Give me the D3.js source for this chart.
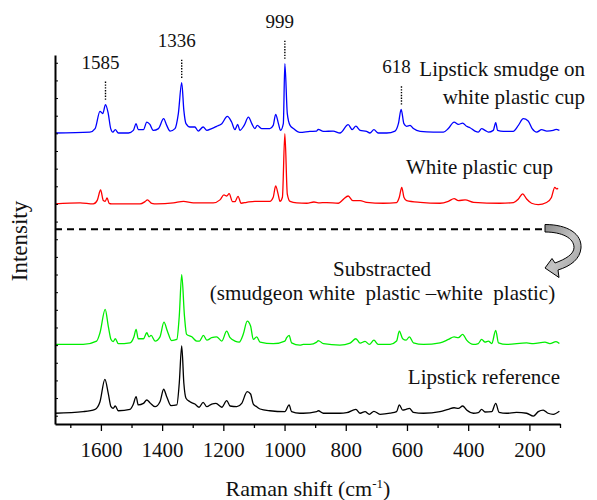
<!DOCTYPE html>
<html><head><meta charset="utf-8">
<script src="https://cdn.jsdelivr.net/npm/d3@7/dist/d3.min.js"></script>
<style>
body{margin:0;background:#fff}
svg{display:block}
</style>
</head><body>
<svg id="chart" width="597" height="500" style="font-family:'Liberation Serif'"></svg>
<script>
// ---- data: [Raman shift (cm-1), intensity above own baseline] ----
const smudgeOnCup = [[1750,0.02],[1636,0.07],[1619,0.27],[1603,1.25],[1594,1.12],[1585,1.63],[1576,1.12],[1568,0.27],[1561,0.07],[1553,0.21],[1543,0.02],[1510,0.02],[1494,0.17],[1485,0.55],[1478,0.21],[1461,0.21],[1450,0.64],[1440,0.51],[1429,0.17],[1412,0.27],[1395,0.83],[1385,0.45],[1374,0.13],[1358,0.27],[1347,1.12],[1336,2.87],[1329,1.30],[1322,0.55],[1309,0.36],[1293,0.36],[1282,0.13],[1266,0.36],[1254,0.17],[1238,0.27],[1222,0.40],[1205,0.55],[1187,0.96],[1173,0.64],[1162,0.21],[1153,0.51],[1146,0.17],[1132,0.45],[1118,0.92],[1107,0.55],[1097,0.27],[1089,0.45],[1075,0.27],[1048,0.27],[1037,0.45],[1029,1.08],[1020,0.55],[1013,0.17],[1004,0.55],[999,3.95],[991,1.12],[982,0.45],[971,0.27],[950,0.05],[917,0.11],[895,0.13],[890,0.23],[873,0.11],[841,0.13],[819,0.02],[792,0.49],[779,0.21],[767,0.41],[753,0.17],[732,0.11],[721,0.02],[708,0.21],[694,0.02],[666,0.02],[639,0.13],[628,0.55],[619,1.36],[610,0.55],[601,0.40],[590,0.45],[579,0.27],[557,0.11],[514,0.07],[481,0.07],[465,0.27],[446,0.64],[432,0.51],[418,0.58],[405,0.40],[394,0.32],[378,0.13],[367,0.07],[356,0.27],[345,0.17],[334,0.07],[318,0.17],[310,0.61],[304,0.17],[285,0.11],[253,0.11],[236,0.45],[220,0.83],[204,0.70],[191,0.27],[176,0.07],[160,0.21],[143,0.13],[122,0.17],[113,0.23],[102,0.17]];

const whiteCup = [[1750,0],[1668,0.06],[1625,0],[1612,0.2],[1601,0.79],[1592,0.19],[1586,0.15],[1580,0.34],[1573,0.03],[1565,0],[1472,0],[1456,0.13],[1448,0.23],[1434,0.03],[1418,0],[1363,0.06],[1330,0.15],[1298,0.06],[1233,0.06],[1211,0.23],[1198,0.51],[1189,0.45],[1181,0.58],[1170,0.13],[1162,0.13],[1152,0.43],[1142,0.04],[1124,0.09],[1097,0.15],[1064,0.15],[1048,0.15],[1037,0.38],[1029,1.02],[1021,0.56],[1015,0.15],[1007,0.38],[999,3.98],[991,0.56],[982,0.15],[960,0.06],[927,0.04],[904,0.11],[890,0.06],[862,0.08],[824,0.04],[808,0.26],[792,0.45],[777,0.19],[753,0.19],[732,0.09],[677,0.04],[634,0.08],[625,0.38],[617,0.94],[610,0.38],[601,0.19],[557,0.09],[492,0.04],[465,0.15],[446,0.30],[432,0.19],[410,0.23],[382,0.09],[296,0.04],[252,0.08],[236,0.28],[222,0.57],[209,0.28],[193,0.04],[171,-0.04],[144,0.08],[128,0.37],[117,0.94],[111,0.85],[106,0.88]];

const subtracted = [[1750,0.04],[1658,0.04],[1614,0.23],[1603,0.70],[1586,2.03],[1576,1.08],[1567,0.32],[1560,0.2],[1553,0.36],[1543,0.08],[1505,0.13],[1492,0.47],[1485,0.89],[1478,0.36],[1461,0.36],[1450,0.70],[1443,0.47],[1436,0.55],[1423,0.23],[1407,0.47],[1394,1.30],[1383,0.80],[1369,0.26],[1352,0.32],[1344,1.64],[1336,3.99],[1327,1.64],[1320,0.61],[1303,0.47],[1287,0.23],[1278,0.23],[1265,0.55],[1254,0.28],[1238,0.42],[1222,0.47],[1205,0.23],[1189,0.79],[1178,0.42],[1162,0.23],[1148,0.17],[1135,0.61],[1122,1.36],[1111,1.08],[1102,0.32],[1091,0.47],[1080,0.17],[1037,0.08],[999,0.23],[993,0.42],[985,0.55],[977,0.13],[950,0.0],[939,0.04],[917,0.04],[895,0.17],[890,0.26],[873,0.08],[819,0.0],[786,0.11],[767,0.36],[753,0.11],[737,0.21],[723,0.04],[708,0.28],[694,0.04],[655,0.04],[634,0.23],[625,0.79],[614,0.36],[603,0.28],[592,0.47],[579,0.13],[546,0.04],[492,0.13],[465,0.32],[446,0.47],[432,0.42],[418,0.61],[405,0.28],[383,0.04],[367,0.09],[356,0.32],[345,0.17],[334,0.23],[323,0.09],[310,0.83],[301,0.13],[274,0.04],[209,0.13],[187,0.08],[149,0.17],[133,0.09],[113,0.2],[102,0.09]];

const lipstickRef = [[1750,0.14],[1658,0.23],[1619,0.36],[1603,0.79],[1587,2.06],[1576,1.27],[1567,0.51],[1560,0.42],[1553,0.55],[1543,0.28],[1505,0.36],[1494,0.66],[1485,1.08],[1478,0.61],[1461,0.70],[1450,0.89],[1440,0.74],[1423,0.51],[1407,0.79],[1395,1.50],[1385,1.08],[1371,0.57],[1352,0.61],[1344,1.84],[1336,3.95],[1329,1.84],[1322,0.99],[1309,0.79],[1293,0.66],[1279,0.48],[1266,0.76],[1254,0.51],[1238,0.66],[1224,0.70],[1205,0.48],[1189,0.85],[1178,0.55],[1156,0.51],[1140,0.70],[1122,1.36],[1111,1.23],[1102,0.66],[1091,0.51],[1080,0.38],[1048,0.28],[999,0.23],[985,0.61],[977,0.23],[950,0.14],[939,0.14],[895,0.23],[890,0.28],[873,0.14],[819,0.14],[797,0.17],[767,0.36],[753,0.14],[737,0.23],[723,0.08],[708,0.25],[688,0.08],[655,0.14],[634,0.23],[625,0.61],[614,0.32],[603,0.36],[592,0.42],[579,0.19],[546,0.14],[492,0.23],[465,0.36],[446,0.45],[432,0.42],[418,0.55],[405,0.32],[383,0.14],[367,0.17],[356,0.36],[345,0.21],[323,0.23],[310,0.70],[299,0.19],[274,0.14],[242,0.19],[209,0.14],[187,-0.02],[171,0.23],[155,0.32],[139,0.14],[122,0.08],[102,0.25]];

const seriesNames   = ["Lipstick smudge on cup", "White plastic cup", "Subtracted", "Lipstick reference"];
const seriesOffsets = [16, 12, 4, 0];
const seriesColors  = ["#0000ff", "#ff0000", "#00ee00", "#000000"];
const seriesData    = [smudgeOnCup, whiteCup, subtracted, lipstickRef];

const majorTicks = [1600, 1400, 1200, 1000, 800, 600, 400, 200];
const minorTicks = [1700, 1500, 1300, 1100, 900, 700, 500, 300, 100];
const yTicks = d3.range(0, 21);

const peakLabels = [1585, 1336, 999, 618];
const separatorLevel = 10.56;

const FONT = "font-family:'Liberation Serif';";

// ---- drawing ----
const svg = d3.select("#chart");
const x = d3.scaleLinear().domain([1750, 100]).range([55, 560]);
const y = d3.scaleLinear().domain([-0.47, 20.44]).range([424, 55]);

const line = d3.line().x(d => x(d[0])).y(d => y(d[1])).curve(d3.curveMonotoneX);

seriesData.forEach((data, i) => {
  svg.append("path")
    .datum(data.map(d => [d[0], d[1] + seriesOffsets[i]]))
    .attr("d", line)
    .attr("fill", "none")
    .attr("stroke", seriesColors[i])
    .attr("stroke-width", 1.3)
    .attr("stroke-linejoin", "round");
});

// separator
svg.append("line")
  .attr("x1", x(1750)).attr("x2", 545)
  .attr("y1", y(separatorLevel)).attr("y2", y(separatorLevel))
  .attr("stroke", "#000").attr("stroke-width", 2).attr("stroke-dasharray", "7,5");

// curved arrow
const defs = svg.append("defs");
const grad = defs.append("linearGradient").attr("id", "ag").attr("x1", 0).attr("y1", 0).attr("x2", 1).attr("y2", 1);
grad.append("stop").attr("offset", "0%").attr("stop-color", "#8a8a8a");
grad.append("stop").attr("offset", "50%").attr("stop-color", "#c4c4c4");
grad.append("stop").attr("offset", "100%").attr("stop-color", "#9a9a9a");
svg.append("path")
  .attr("d", "M545,224.5 C568,224.5 582,234 581,248 C580,259 571,266 558,270 L559,277.5 L545,268 L552,258.5 L555,263 C566,259 574,254 574,247.5 C574,238 562,232 545,232 Z")
  .attr("fill", "url(#ag)").attr("stroke", "#000").attr("stroke-width", 1);

// axes
const gx = svg.append("g").attr("transform", "translate(0,424)");
gx.call(d3.axisBottom(x).tickValues(minorTicks).tickSize(4).tickSizeOuter(0).tickFormat(""));
gx.call(g => g.select(".domain").remove());
const gx2 = svg.append("g").attr("transform", "translate(0,424)");
gx2.call(d3.axisBottom(x).tickValues(majorTicks).tickSize(7).tickSizeOuter(0).tickFormat(d3.format("d")));
gx2.attr("font-family", null).attr("font-size", null);
gx2.selectAll(".tick line").attr("stroke-width", 1.3);
gx.selectAll(".tick line").attr("stroke-width", 1.3);
gx2.select(".domain").attr("stroke-width", 2);
gx2.selectAll("text").attr("y", 33).attr("dy", 0).attr("fill", "#111")
  .attr("style", FONT + "font-size:21px");

const gy = svg.append("g").attr("transform", "translate(55,0)");
gy.call(d3.axisLeft(y).tickValues(yTicks).tickSize(-3).tickSizeOuter(0).tickFormat(""));
gy.select(".domain").attr("stroke-width", 2);

function txt(xp, yp, anchor, size) {
  return svg.append("text").attr("x", xp).attr("y", yp).attr("text-anchor", anchor)
    .attr("style", FONT + "font-size:" + size + "px").attr("fill", "#111");
}

// axis titles
const xt = txt(308, 496, "middle", 22);
xt.append("tspan").text("Raman shift (cm");
xt.append("tspan").attr("dy", -8).attr("style", "font-size:13px").text("-1");
xt.append("tspan").attr("dy", 8).text(")");

svg.append("text").attr("transform", "translate(27,241) rotate(-90)").attr("text-anchor", "middle")
  .attr("style", FONT + "font-size:23px").attr("fill", "#111").text("Intensity");

// peak annotations (on the top spectrum)
peakLabels.forEach(p => {
  const top = smudgeOnCup.reduce((a, b) => Math.abs(b[0] - p) < Math.abs(a[0] - p) ? b : a);
  const yPeak = y(top[1] + seriesOffsets[0]);
  const y0 = yPeak - 23, y1 = yPeak - 4;
  svg.append("line").attr("x1", x(p)).attr("x2", x(p)).attr("y1", y0).attr("y2", y1)
    .attr("stroke", "#000").attr("stroke-width", 1.4).attr("stroke-dasharray", "1.4,1.4");
  txt(x(p) - 5, y0 - 13, "middle", 19).text(p);
});

// spectrum labels
const labels = [
  {t: "Lipstick smudge on", x: 585, y: 76, a: "end"},
  {t: "white plastic cup", x: 585, y: 104, a: "end"},
  {t: "White plastic cup", x: 406, y: 173.5, a: "start"},
  {t: "Substracted", x: 382, y: 276, a: "middle"},
  {t: "(smudgeon white\u00a0 plastic \u2013white\u00a0 plastic)", x: 382.5, y: 300, a: "middle"},
  {t: "Lipstick reference", x: 560, y: 384, a: "end"}
];
labels.forEach(l => txt(l.x, l.y, l.a, 21).text(l.t));
</script>
</body></html>
